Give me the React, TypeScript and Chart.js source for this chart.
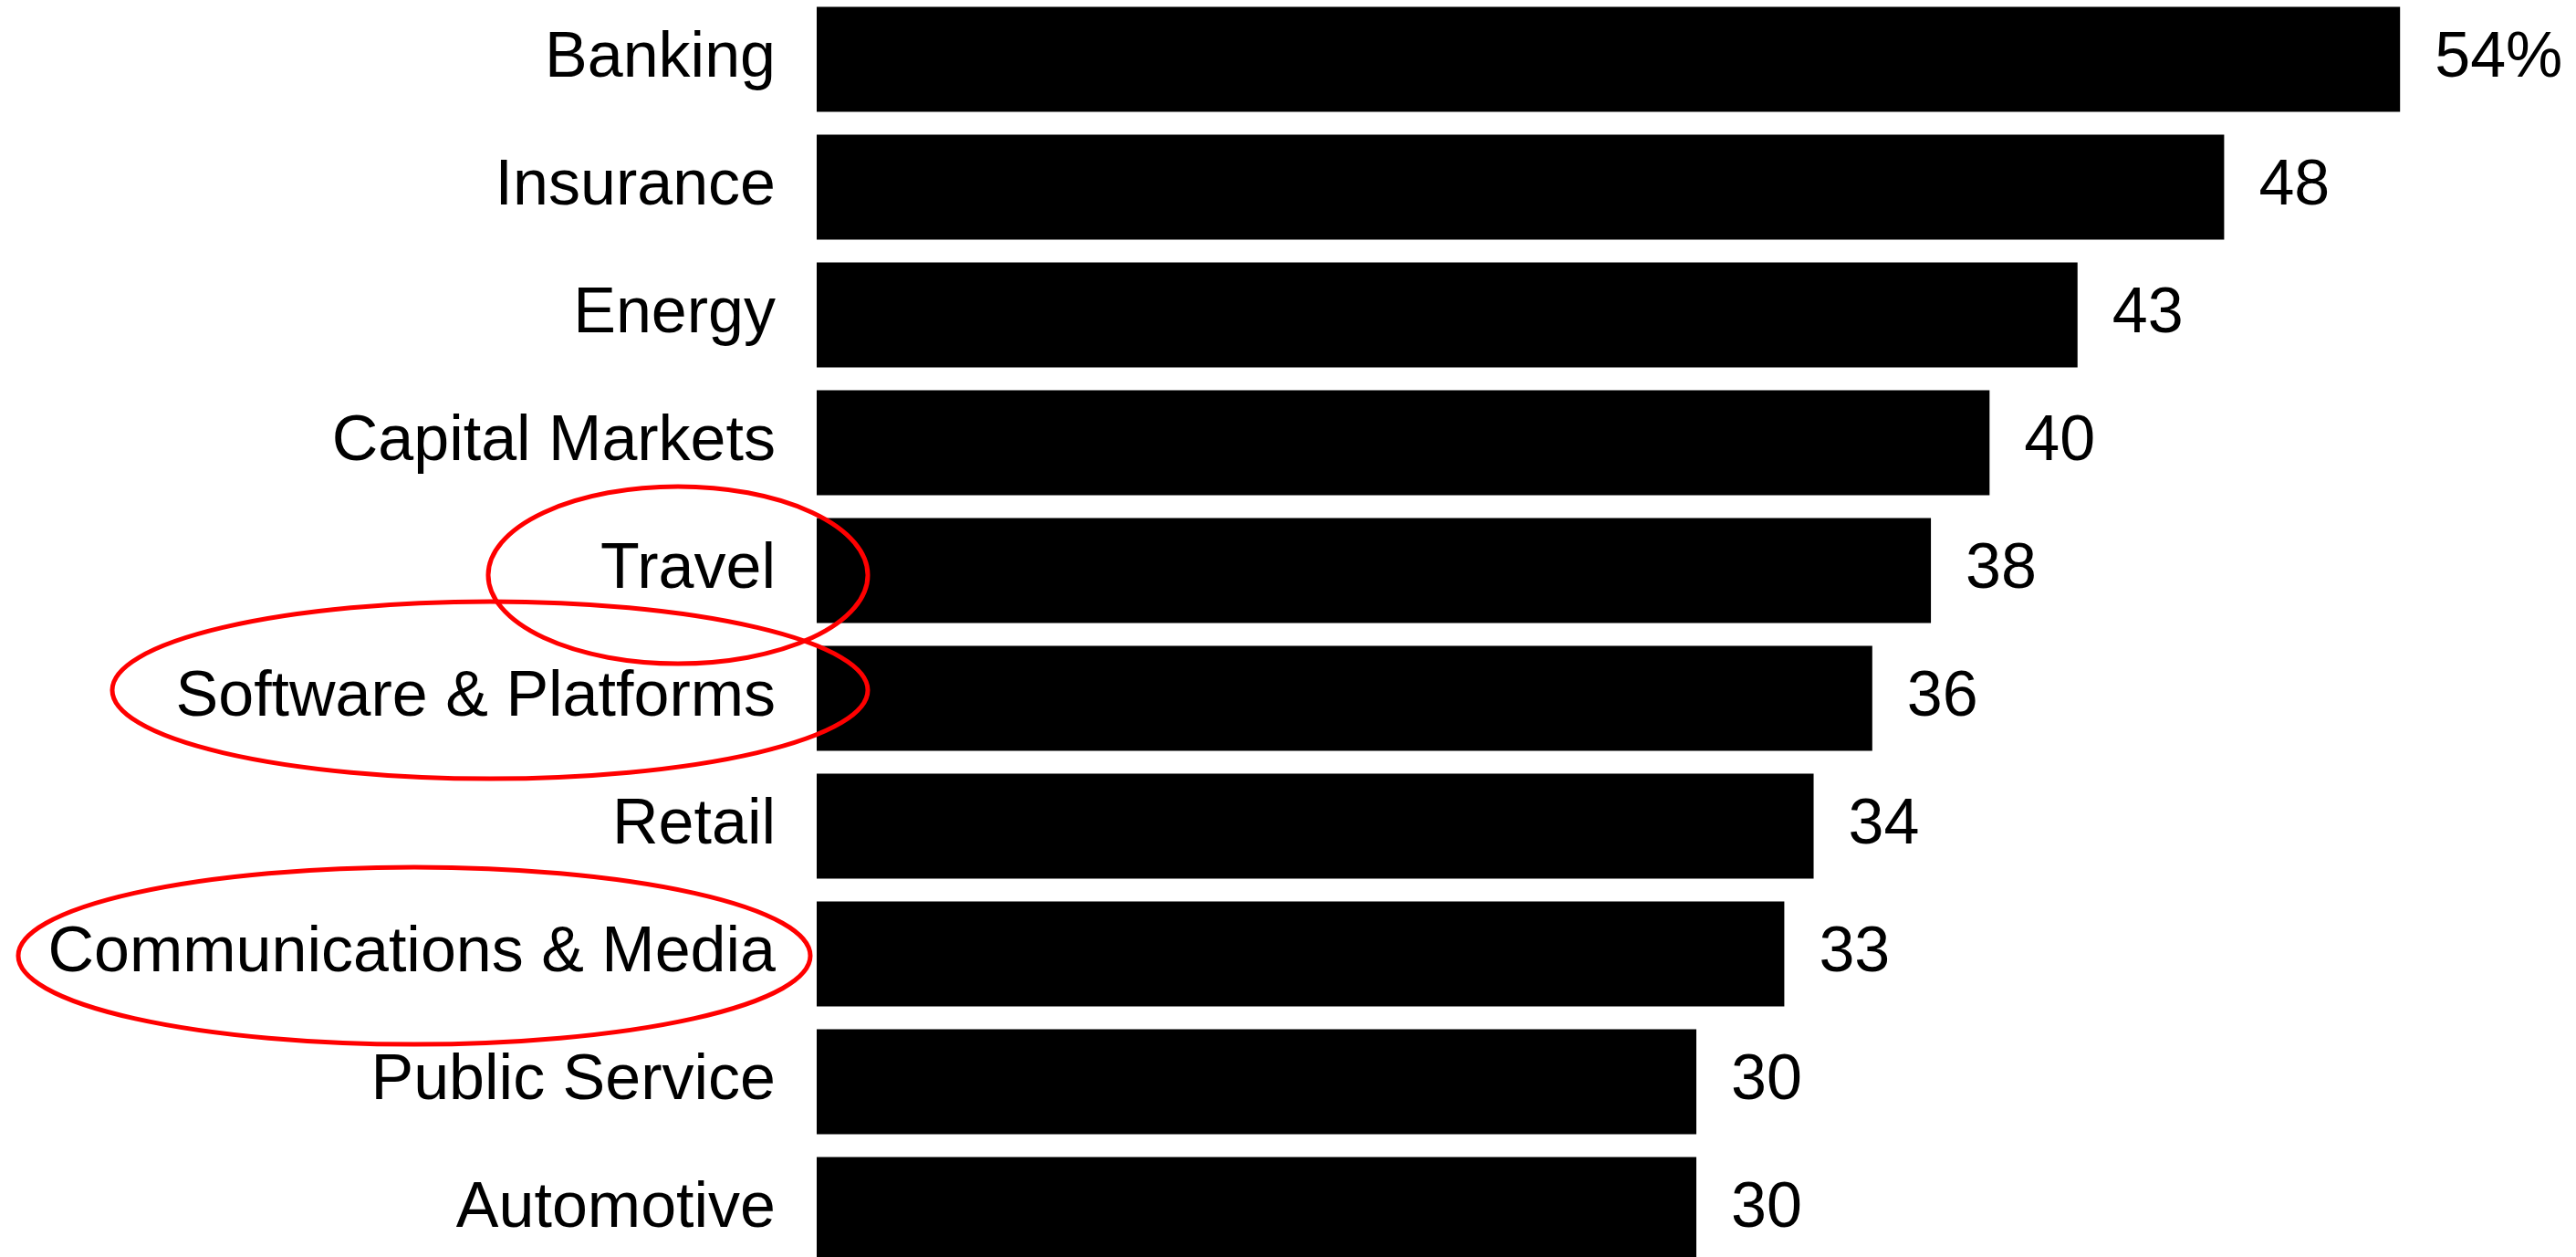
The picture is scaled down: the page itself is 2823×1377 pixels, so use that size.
import React, { useEffect, useRef } from "react";
import { Chart, registerables } from "chart.js";

Chart.register(...registerables);

const categories = [
  "Banking",
  "Insurance",
  "Energy",
  "Capital Markets",
  "Travel",
  "Software & Platforms",
  "Retail",
  "Communications & Media",
  "Public Service",
  "Automotive",
];

const values = [54, 48, 43, 40, 38, 36, 34, 33, 30, 30];

const highlighted = ["Travel", "Software & Platforms", "Communications & Media"];

const FONT = "'Liberation Sans', Arial, Helvetica, sans-serif";

// ellipse geometry for the red hand-drawn highlights (pixels)
const ellipseStyle: Record<string, { cx: number; rx: number; ry: number; dy: number }> = {
  "Travel": { cx: 743, rx: 208, ry: 97, dy: 5 },
  "Software & Platforms": { cx: 537, rx: 414, ry: 97, dy: -9 },
  "Communications & Media": { cx: 454, rx: 434, ry: 97, dy: 2 },
};

const valueLabelPlugin = {
  id: "valueLabels",
  afterDatasetsDraw(chart: any) {
    const ctx = chart.ctx;
    const meta = chart.getDatasetMeta(0);
    ctx.save();
    ctx.font = `70px ${FONT}`;
    ctx.fillStyle = "#000";
    ctx.textAlign = "left";
    ctx.textBaseline = "middle";
    meta.data.forEach((bar: any, i: number) => {
      const v = values[i];
      const txt = i === 0 ? `${v}%` : `${v}`;
      ctx.fillText(txt, bar.x + 38, bar.y);
    });
    ctx.restore();
  },
};

const ellipsePlugin = {
  id: "highlightEllipses",
  afterDraw(chart: any) {
    const ctx = chart.ctx;
    const yScale = chart.scales.y;
    ctx.save();
    ctx.strokeStyle = "#f00";
    ctx.lineWidth = 5;
    highlighted.forEach((name) => {
      const idx = categories.indexOf(name);
      const st = ellipseStyle[name];
      if (idx < 0 || !st) return;
      const cy = yScale.getPixelForValue(idx) + st.dy;
      ctx.beginPath();
      ctx.ellipse(st.cx, cy, st.rx, st.ry, 0, 0, Math.PI * 2);
      ctx.stroke();
    });
    ctx.restore();
  },
};

export default function App() {
  const canvasRef = useRef<HTMLCanvasElement | null>(null);

  useEffect(() => {
    if (!canvasRef.current) return;
    const chart = new Chart(canvasRef.current, {
      type: "bar",
      data: {
        labels: categories,
        datasets: [
          {
            data: values,
            backgroundColor: "#000",
            borderWidth: 0,
            barPercentage: 0.82,
            categoryPercentage: 1,
          },
        ],
      },
      options: {
        indexAxis: "y",
        animation: false,
        responsive: false,
        devicePixelRatio: 1,
        layout: { padding: 0 },
        plugins: {
          legend: { display: false },
          tooltip: { enabled: false },
        },
        scales: {
          x: {
            display: false,
            min: 0,
            max: 60,
          },
          y: {
            grid: { display: false },
            border: { display: false },
            ticks: {
              autoSkip: false,
              color: "#000",
              padding: 37,
              font: { family: FONT, size: 70 },
            },
            afterFit: (s: any) => {
              s.width = 895;
              s.paddingTop = 0;
              s.paddingBottom = 0;
            },
          },
        },
      },
      plugins: [valueLabelPlugin, ellipsePlugin],
    });
    return () => chart.destroy();
  }, []);

  return (
    <div
      style={{
        position: "fixed",
        left: 0,
        top: 0,
        width: 2823,
        height: 1377,
        overflow: "hidden",
        background: "#fff",
      }}
    >
      <canvas
        ref={canvasRef}
        width={2823}
        height={1400}
        style={{ display: "block", position: "relative", top: -5, width: 2823, height: 1400 }}
      />
    </div>
  );
}
